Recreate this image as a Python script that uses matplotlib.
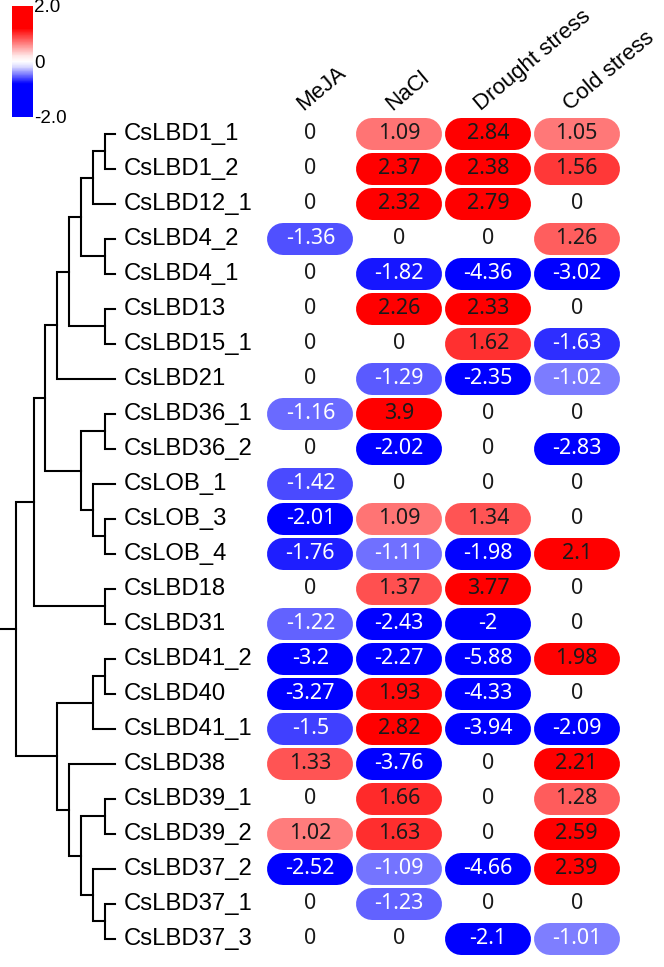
import numpy as np
import matplotlib
matplotlib.use('Agg')
import matplotlib.pyplot as plt
from matplotlib import cm, colors

genes = ['CsLBD1_1', 'CsLBD1_2', 'CsLBD12_1', 'CsLBD4_2', 'CsLBD4_1', 'CsLBD13',
         'CsLBD15_1', 'CsLBD21', 'CsLBD36_1', 'CsLBD36_2', 'CsLOB_1', 'CsLOB_3',
         'CsLOB_4', 'CsLBD18', 'CsLBD31', 'CsLBD41_2', 'CsLBD40', 'CsLBD41_1',
         'CsLBD38', 'CsLBD39_1', 'CsLBD39_2', 'CsLBD37_2', 'CsLBD37_1', 'CsLBD37_3']
treatments = ['MeJA', 'NaCl', 'Drought stress', 'Cold stress']

meja = [0, 0, 0, -1.36, 0, 0, 0, 0, -1.16, 0, -1.42, -2.01,
        -1.76, 0, -1.22, -3.2, -3.27, -1.5, 1.33, 0, 1.02, -2.52, 0, 0]
nacl = [1.09, 2.37, 2.32, 0, -1.82, 2.26, 0, -1.29, 3.9, -2.02, 0, 1.09,
        -1.11, 1.37, -2.43, -2.27, 1.93, 2.82, -3.76, 1.66, 1.63, -1.09, -1.23, 0]
drought = [2.84, 2.38, 2.79, 0, -4.36, 2.33, 1.62, -2.35, 0, 0, 0, 1.34,
           -1.98, 3.77, -2, -5.88, -4.33, -3.94, 0, 0, 0, -4.66, 0, -2.1]
cold = [1.05, 1.56, 0, 1.26, -3.02, 0, -1.63, -1.02, 0, -2.83, 0, 0,
        2.1, 0, 0, 1.98, 0, -2.09, 2.21, 1.28, 2.59, 2.39, 0, -1.01]

# (height, left, right) -- heights
tree = (99,
        (81,
         (70,
          (58,
           (46,
            (34, (22, (10, 'CsLBD1_1', 'CsLBD1_2'), 'CsLBD12_1'),
             (10, 'CsLBD4_2', 'CsLBD4_1')),
            (10, 'CsLBD13', 'CsLBD15_1')),
           'CsLBD21'),
          (34, (10, 'CsLBD36_1', 'CsLBD36_2'),
           (22, 'CsLOB_1', (10, 'CsLOB_3', 'CsLOB_4')))),
         (10, 'CsLBD18', 'CsLBD31')),
        (58,
         (22, (10, 'CsLBD41_2', 'CsLBD40'), 'CsLBD41_1'),
         (46, 'CsLBD38',
          (34, (10, 'CsLBD39_1', 'CsLBD39_2'),
           (22, 'CsLBD37_2', (10, 'CsLBD37_1', 'CsLBD37_3'))))))

W, H = 664, 967
fig = plt.figure(figsize=(W / 100, H / 100), dpi=100)

row_h = 35.0
col_w = 88.75
top = 116.5
n = len(genes)
bottom = 1 - (top + n * row_h) / H
height = n * row_h / H

ax = fig.add_axes([266 / W, bottom, 4 * col_w / W, height])
ax.set_xlim(-0.5, 3.5)
ax.set_ylim(n - 0.5, -0.5)
ax.axis('off')

values = np.column_stack([meja, nacl, drought, cold])
norm = colors.Normalize(-2, 2)
cmap = plt.get_cmap('bwr')

# pill = thick line with round caps: 86 px wide, 32 px tall
half = (43 - 16) / col_w
pill_lw = 32 * 72 / 100

for i in range(n):
    for j in range(len(treatments)):
        v = values[i, j]
        if v != 0:
            ax.plot([j - half, j + half], [i, i], color=cmap(norm(v)),
                    lw=pill_lw, solid_capstyle='round', zorder=1)
        tc = 'white' if v < 0 else '#1a1a1a'
        ax.text(j, i, '{:g}'.format(v), ha='center', va='center', color=tc,
                fontsize=15.5, family='Noto Sans', zorder=2)

for j, name in enumerate(treatments):
    ax.text(j - 7 / col_w, -0.5 - 5 / row_h, name, rotation=40,
            rotation_mode='anchor', ha='left', va='baseline',
            fontsize=16, family='Liberation Sans', clip_on=False)

# cladogram
axt = fig.add_axes([0, bottom, 125 / W, height])
axt.set_xlim(115, -10)
axt.set_ylim(n - 0.5, -0.5)
axt.axis('off')

def draw(node):
    if isinstance(node, str):
        return genes.index(node), 0
    h, a, b = node
    ya, ha = draw(a)
    yb, hb = draw(b)
    axt.plot([ha, h, h, hb], [ya, ya, yb, yb], color='black', lw=1.5,
             solid_joinstyle='miter', clip_on=False)
    return (ya + yb) / 2, h

ry, rh = draw(tree)
axt.plot([rh, 115], [ry, ry], color='black', lw=1.5, clip_on=False)

for i, g in enumerate(genes):
    axt.text(-9, i, g, ha='left', va='center', fontsize=17.2,
             family='Liberation Sans', clip_on=False)

# colour key (the key in the figure saturates faster than the cells)
key_cmap = colors.LinearSegmentedColormap.from_list(
    'key', [(0, 'blue'), (0.3, 'blue'), (0.45, '#d8d8ff'), (0.5, 'white'),
            (0.55, '#ffe8e8'), (0.8, 'red'), (1, 'red')])
cax = fig.add_axes([12 / W, 1 - 117 / H, 21 / W, 111 / H])
cb = fig.colorbar(cm.ScalarMappable(norm=norm, cmap=key_cmap), cax=cax, ticks=[-2, 0, 2])
cb.ax.set_yticklabels(['-2.0', '0', '2.0'])
cb.outline.set_visible(False)
cax.tick_params(length=0, labelsize=13.5, pad=1)
for t in cax.get_yticklabels():
    t.set_family('Liberation Sans')

fig.savefig('out.png', dpi=100)
